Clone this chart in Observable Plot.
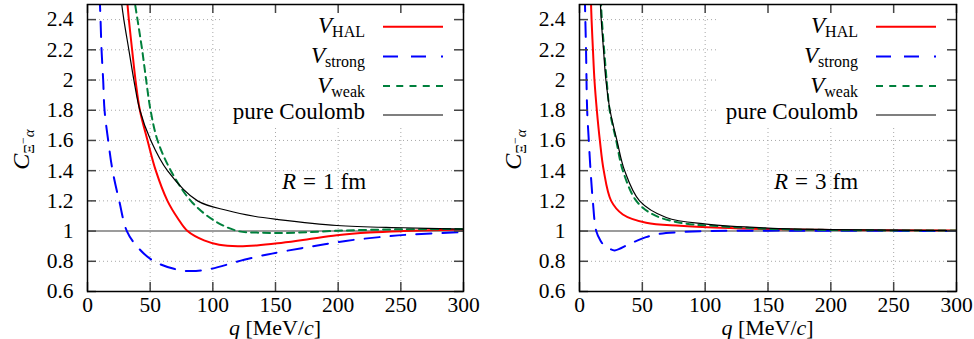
<!DOCTYPE html>
<html><head><meta charset="utf-8">
<script src="https://cdn.jsdelivr.net/npm/d3@7"></script>
<script src="https://cdn.jsdelivr.net/npm/@observablehq/plot@0.6"></script>
<style>
body{margin:0;background:#fff;}
#wrap{display:flex;width:974px;height:339px;overflow:hidden;}
</style></head><body><div id="wrap"></div>
<script>
const FONT="Liberation Serif";
const xTicks=[0,50,100,150,200,250,300];
const yTicks=[0.6,0.8,1,1.2,1.4,1.6,1.8,2,2.2,2.4];
const xDomain=[0,300], yDomain=[0.6,2.5];
const panelLabels=["1","3"];

// R = 1 fm
const r1HalQ=[30.5,31.6,33,35.6,38.3,41.8,47.9,54.5,63.8,72,79.8,93,105,120,135,151.6,175,199,225,252,300];
const r1HalC=[2.62,2.53,2.4,2.2,2.0,1.8,1.6,1.4,1.2,1.085,1.0,0.938,0.91,0.9,0.905,0.919,0.945,0.972,0.99,1.0,1.011];
const r1StrongQ=[8.2,9.8,10.4,11.2,12.5,13.6,16.5,20,25.3,31.4,40,51.9,69,82.4,98.4,125,143.6,154,180,206,233,259,300];
const r1StrongC=[2.9,2.53,2.4,2.2,2.0,1.8,1.6,1.4,1.2,1.0,0.894,0.806,0.75,0.735,0.75,0.81,0.845,0.862,0.9,0.935,0.96,0.978,0.993];
const r1WeakQ=[36,37.5,39.9,43.6,46.8,50.3,55.9,66.5,82.4,101,120,135,151.6,175,199,225,252,300];
const r1WeakC=[2.65,2.53,2.4,2.2,2.0,1.8,1.6,1.4,1.2,1.07,1.0,0.99,0.987,0.992,1.002,1.008,1.012,1.013];
const r1CoulQ=[24.5,26.9,29,33,37,41.8,50.5,63.8,87.8,111.7,133,151.6,199,252,300];
const r1CoulC=[2.75,2.53,2.4,2.2,2.0,1.8,1.6,1.4,1.2,1.136,1.098,1.077,1.037,1.022,1.013];

// R = 3 fm
const r3HalQ=[8.3,9.1,9.6,10.7,11.9,13.8,16.2,19.3,25.2,34.5,53,80,112,150,200,300];
const r3HalC=[2.8,2.53,2.4,2.2,2.0,1.8,1.6,1.4,1.2,1.11,1.055,1.035,1.022,1.013,1.007,1.003];
const r3StrongQ=[3.6,4.3,5.2,6.1,7.4,8.8,10.6,13.3,16.5,20,24,28,40,53,64,80,100,150,200,300];
const r3StrongC=[2.9,2.53,2.2,1.8,1.6,1.4,1.2,1.0,0.94,0.9,0.883,0.872,0.916,0.96,0.982,0.993,1.0,1.003,1.002,1.001];
const r3WeakQ=[16.2,17,17.8,19.6,21.6,24,29.2,34.5,45.2,58.5,80,106,150,200,300];
const r3WeakC=[2.7,2.53,2.4,2.2,2.0,1.8,1.6,1.4,1.2,1.11,1.055,1.035,1.015,1.007,1.003];
const r3CoulQ=[15.6,16.5,17.3,19.1,21,24.3,29.8,35.9,47.8,69,101,150,200,300];
const r3CoulC=[2.7,2.53,2.4,2.2,2.0,1.8,1.6,1.4,1.2,1.09,1.046,1.02,1.01,1.003];

const styles={
  HAL:{stroke:"#ff0000",strokeWidth:2,dash:null,legendDash:null,sub:"HAL"},
  strong:{stroke:"#0000ff",strokeWidth:2,dash:"15,11",legendDash:"15,13,15,15,2,20",sub:"strong"},
  weak:{stroke:"#00803c",strokeWidth:2,dash:"7,5",legendDash:"7,6.25",sub:"weak"},
  Coulomb:{stroke:"#000000",strokeWidth:1.2,dash:null,legendDash:null,sub:null}
};
const order=["HAL","strong","weak","Coulomb"];

function rows(q,C){return q.map((v,i)=>({q:v,C:C[i]}));}

function panel(series, rLabel, mLeft, mRight){
  const W=487,H=339,mTop=4,mBottom=48;
  const ph=H-mTop-mBottom;
  const tickLen=9;
  const lineMarks=order.map(k=>{
    const s=styles[k];
    return Plot.line(rows(series[k][0],series[k][1]),{x:"q",y:"C",stroke:s.stroke,strokeWidth:s.strokeWidth,
      strokeDasharray:s.dash,curve:"catmull-rom",clip:true});
  });
  const legendBox=(index,scales)=>{
    const g=d3.create("svg:g");
    const right=scales.x(xDomain[1]), top=scales.y(yDomain[1]);
    g.append("rect").attr("x",right-240).attr("y",top+1).attr("width",239).attr("height",123).attr("fill","#fff");
    return g.node();
  };
  const annotations=(index,scales)=>{
    const g=d3.create("svg:g").attr("fill","#000");
    const left=scales.x(xDomain[0]), right=scales.x(xDomain[1]);
    const top=scales.y(yDomain[1]), bottom=scales.y(yDomain[0]);
    const rowsY=[26.7,56.5,86,115];
    order.forEach((k,i)=>{
      const s=styles[k], cy=rowsY[i];
      g.append("line").attr("x1",right-80).attr("x2",right-20).attr("y1",cy).attr("y2",cy)
        .attr("stroke",s.stroke).attr("stroke-width",s.strokeWidth).attr("stroke-dasharray",s.legendDash);
      const t=g.append("text").attr("x",right-98).attr("text-anchor","end").attr("font-size",23);
      if(s.sub){
        t.attr("y",cy+6.5);
        t.append("tspan").attr("font-style","italic").text("V");
        t.append("tspan").attr("font-size",16).attr("dy",4).text(s.sub);
      } else {
        t.attr("y",cy+4).text("pure Coulomb");
      }
    });
    // R label
    const rt=g.append("text").attr("x",left+195).attr("y",189).attr("font-size",23).attr("text-anchor","start");
    rt.append("tspan").attr("font-style","italic").text("R");
    rt.append("tspan").attr("dx",7).text("=");
    rt.append("tspan").attr("dx",7).text(rLabel);
    rt.append("tspan").attr("dx",6).text("fm");
    // x label
    const cx=(left+right)/2;
    const xt=g.append("text").attr("x",cx).attr("y",335).attr("text-anchor","middle").attr("font-size",22);
    xt.append("tspan").attr("font-style","italic").text("q");
    xt.append("tspan").text(" [MeV/");
    xt.append("tspan").attr("font-style","italic").text("c");
    xt.append("tspan").text("]");
    // y label
    const cy=(top+bottom)/2;
    const yt=g.append("text").attr("transform",`translate(${left-58},${cy+2}) rotate(-90)`)
      .attr("text-anchor","middle").attr("font-size",24);
    yt.append("tspan").attr("font-style","italic").text("C");
    yt.append("tspan").attr("font-size",15).attr("dy",5).text("Ξ");
    yt.append("tspan").attr("font-size",12).attr("dy",-7).text("−");
    yt.append("tspan").attr("font-size",15).attr("font-style","italic").attr("dy",7).text("α");
    return g.node();
  };
  const svg=Plot.plot({
    width:W,height:H,marginLeft:mLeft,marginRight:mRight,marginTop:mTop,marginBottom:mBottom,
    style:{background:"#fff",overflow:"visible"},
    x:{domain:xDomain,ticks:xTicks},
    y:{domain:yDomain,ticks:yTicks},
    marks:[
      Plot.ruleX(xTicks.slice(1,-1),{x:d=>d,stroke:"#a8a8a8",strokeWidth:1,strokeDasharray:"1,3"}),
      Plot.ruleY(yTicks.slice(1),{y:d=>d,stroke:"#a8a8a8",strokeWidth:1,strokeDasharray:"1,3"}),
      legendBox,
      Plot.ruleY([1],{y:d=>d,stroke:"#9c9c9c",strokeWidth:2}),
      ...lineMarks,
      Plot.ruleX(xTicks,{x:d=>d,stroke:"#444",strokeWidth:1.5,insetTop:ph-tickLen}),
      Plot.ruleX(xTicks,{x:d=>d,stroke:"#444",strokeWidth:1.5,insetBottom:ph-tickLen}),
      Plot.tickY(yTicks,{y:d=>d,stroke:"#444",strokeWidth:1.5,insetRight:(W-mLeft-mRight)-tickLen}),
      Plot.tickY(yTicks,{y:d=>d,stroke:"#444",strokeWidth:1.5,insetLeft:(W-mLeft-mRight)-tickLen}),
      Plot.frame({stroke:"#000",strokeWidth:1.5}),
      Plot.axisX(xTicks,{tickSize:0,tickPadding:5,fontSize:21.5,label:null,tickFormat:d=>String(d)}),
      Plot.axisY(yTicks,{tickSize:0,tickPadding:14,fontSize:21.5,label:null,tickFormat:d=>String(d)}),
      annotations
    ]
  });
  svg.setAttribute("font-family",FONT);
  svg.style.fontFamily="'Liberation Serif', serif";
  d3.select(svg).selectAll("g, text, tspan").each(function(){
    if(this.getAttribute("font-family")) this.setAttribute("font-family",FONT);
  });
  d3.select(svg).selectAll("text").style("font-family","'Liberation Serif', serif");
  return svg;
}

const wrap=document.getElementById("wrap");
wrap.appendChild(panel({HAL:[r1HalQ,r1HalC],strong:[r1StrongQ,r1StrongC],weak:[r1WeakQ,r1WeakC],Coulomb:[r1CoulQ,r1CoulC]},panelLabels[0],87,24));
wrap.appendChild(panel({HAL:[r3HalQ,r3HalC],strong:[r3StrongQ,r3StrongC],weak:[r3WeakQ,r3WeakC],Coulomb:[r3CoulQ,r3CoulC]},panelLabels[1],92,18));
</script></body></html>
